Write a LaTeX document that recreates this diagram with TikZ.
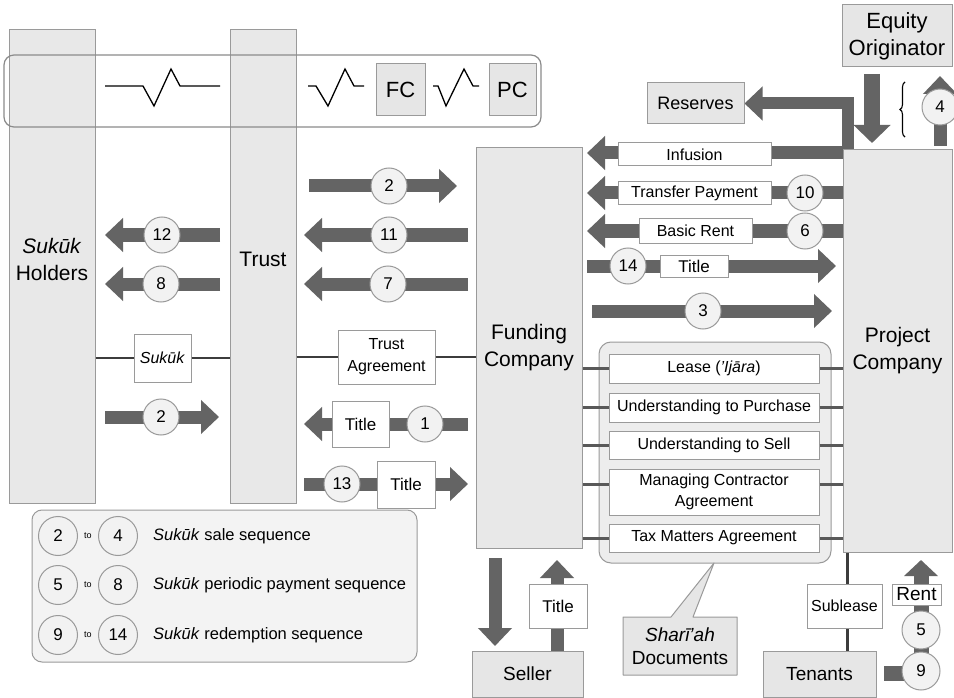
\documentclass[tikz,border=0pt]{standalone}
\usepackage{fontspec}
\setmainfont{Liberation Sans}
\usetikzlibrary{arrows.meta,decorations.pathreplacing,calc}

\definecolor{colfill}{HTML}{E8E8E8}
\definecolor{edge}{HTML}{9A9A9A}
\definecolor{arrowgray}{HTML}{646464}
\definecolor{circfill}{HTML}{F2F2F2}
\definecolor{linegray}{HTML}{3C3C3C}
\definecolor{boxfill}{HTML}{E6E6E6}
\definecolor{groupfill}{HTML}{EDEDED}
\definecolor{legendfill}{HTML}{F3F3F3}

\newcommand{\fsz}[2]{\fontsize{#1pt}{#2pt}\selectfont}

\pgfdeclarelayer{back}
\pgfdeclarelayer{mid}
\pgfsetlayers{back,mid,main}

\tikzset{
  col/.style={draw=edge, fill=colfill, line width=1pt, inner sep=0pt},
  gbox/.style={draw=edge, fill=boxfill, line width=1pt, inner sep=0pt, align=center},
  tbox/.style={draw=edge, fill=white, line width=1pt, inner sep=0pt, align=center, font=\fsz{16}{21}},
  num/.style={circle, draw=edge, fill=circfill, line width=1pt, minimum size=36pt, inner sep=0pt, font=\fsz{17}{20}},
  lnum/.style={num, minimum size=39pt},
  bigtext/.style={align=center, font=\fsz{21}{27}},
  barrow/.style={draw=arrowgray, line width=13pt, -{Triangle[width=33pt,length=18pt]}},
  conn/.style={draw=linegray, line width=2.5pt},
  docline/.style={draw=linegray!85, line width=3pt},
  zig/.style={draw=black, line width=1.3pt},
}

\begin{document}
\begin{tikzpicture}[x=1pt, y=-1pt]
\useasboundingbox (0,0) rectangle (954,698);

% ---------- parties drawn as tall columns ----------
\begin{pgfonlayer}{back}
\fill[white] (0,0) rectangle (954,698);
\node[col, minimum width=86pt, minimum height=473pt] (holders) at (52,266.5) {};
\node[col, minimum width=66pt, minimum height=473pt] (trust) at (263,266.5) {};
\node[col, minimum width=106pt, minimum height=400pt] (funding) at (529,348) {};
\node[col, minimum width=109pt, minimum height=402pt] (project) at (897.5,351) {};
\node[draw=edge, fill=groupfill, line width=1pt, rounded corners=12pt,
      minimum width=232pt, minimum height=221pt, inner sep=0pt] (shariagroup) at (715,452.5) {};
\end{pgfonlayer}

% frame linking the parties across the top
\draw[draw=edge!90!black, line width=1.2pt, rounded corners=10pt] (4,55) rectangle (541,127);

\node[bigtext] (holderslbl) at (52,259) {\textit{Sukūk}\\Holders};
\node[bigtext] (trustlbl) at (263,259) {Trust};
\node[bigtext] (fundinglbl) at (529,348) {Funding\\Company};
\node[bigtext] (projectlbl) at (897.5,351) {Project\\Company};

% zigzag link symbols
\draw[zig] (105,86) -- (143,86) -- (154,106) -- (171,69) -- (180,86) -- (220,86);
\draw[zig] (308,86) -- (316,86) -- (328,106) -- (345,69) -- (354,86) -- (364,86);
\draw[zig] (433,86) -- (438,86) -- (446,106) -- (464,69) -- (473,86) -- (479,86);
\node[gbox, minimum width=49pt, minimum height=52pt, font=\fsz{22}{26}] (fc) at (400.5,90) {FC};
\node[gbox, minimum width=47pt, minimum height=52pt, font=\fsz{22}{26}] (pc) at (512.5,90) {PC};

% ---------- other parties ----------
\node[gbox, minimum width=110pt, minimum height=62pt, font=\fsz{22}{27}] (equity) at (897,36) {Equity\\Originator};
\node[gbox, minimum width=97pt, minimum height=41pt, font=\fsz{18}{22}] (reserves) at (695.5,103.5) {Reserves};
\node[gbox, minimum width=111pt, minimum height=46pt, font=\fsz{19}{23}] (seller) at (527.5,674) {Seller};
\node[gbox, minimum width=113pt, minimum height=46pt, font=\fsz{19}{23}] (tenants) at (819.5,674) {Tenants};

% ---------- end points of the flow arrows ----------
\coordinate (a12s) at (220,235); \coordinate (a12e) at (105,235);
\coordinate (a8s)  at (220,284); \coordinate (a8e)  at (105,284);
\coordinate (a2ls) at (105,417); \coordinate (a2le) at (219,417);
\coordinate (a2us) at (309,186); \coordinate (a2ue) at (457,186);
\coordinate (a11s) at (468,235); \coordinate (a11e) at (304,235);
\coordinate (a7s)  at (468,284); \coordinate (a7e)  at (304,284);
\coordinate (a1s)  at (468,424); \coordinate (a1e)  at (304,424);
\coordinate (a13s) at (304,484); \coordinate (a13e) at (468,484);
\coordinate (ainfs) at (843,153); \coordinate (ainfe) at (587,153);
\coordinate (atps)  at (843,193); \coordinate (atpe)  at (587,193);
\coordinate (abrs)  at (843,231); \coordinate (abre)  at (587,231);
\coordinate (a14s)  at (587,266); \coordinate (a14e)  at (836,266);
\coordinate (a3s)   at (592,311); \coordinate (a3e)   at (832,311);
\coordinate (aeqs) at (872,74);  \coordinate (aeqe) at (872,143);
\coordinate (a4s)  at (940,146); \coordinate (a4e)  at (940,76);
\coordinate (ares) at (848,149);
\coordinate (bracebot) at (905,137); \coordinate (bracetop) at (905,82);
\coordinate (asels) at (495,558); \coordinate (asele) at (495,646);
\coordinate (atis)  at (557,651); \coordinate (atie)  at (557,560);
\coordinate (arents) at (884,673); \coordinate (arentc) at (921,673); \coordinate (arente) at (921,560);

\begin{pgfonlayer}{mid}
\draw[barrow] (a12s) -- (a12e);
\draw[barrow] (a8s) -- (a8e);
\draw[barrow] (a2ls) -- (a2le);
\draw[barrow] (a2us) -- (a2ue);
\draw[barrow] (a11s) -- (a11e);
\draw[barrow] (a7s) -- (a7e);
\draw[barrow] (a1s) -- (a1e);
\draw[barrow] (a13s) -- (a13e);
\draw[barrow] (ainfs) -- (ainfe);
\draw[barrow] (atps) -- (atpe);
\draw[barrow] (abrs) -- (abre);
\draw[barrow] (a14s) -- (a14e);
\draw[barrow] (a3s) -- (a3e);
\draw[barrow, line width=16pt, -{Triangle[width=36pt,length=18pt]}] (aeqs) -- (aeqe);
\draw[barrow] (a4s) -- (a4e);
\draw[barrow, line width=12pt, line join=miter] (ares) |- (reserves.east);
\draw[barrow] (asels) -- (asele);
\draw[barrow] (atis) -- (atie);
\draw[barrow, line width=15pt, -{Triangle[width=33pt,length=16pt]}] (arents) -- (arentc) -- (arente);
\draw[draw=linegray, line width=3pt] (project.south -| 847,0) -- (tenants.north -| 847,0);
\end{pgfonlayer}

\draw[black, line width=1.1pt, decorate, decoration={brace, amplitude=5pt}] (bracebot) -- (bracetop);

% ---------- numbered steps ----------
\node[num] (n12) at (162,235) {12};
\node[num] (n8)  at (161,284) {8};
\node[num] (n2l) at (161,417) {2};
\node[num] (n2u) at (389,186) {2};
\node[num] (n11) at (389,235) {11};
\node[num] (n7)  at (388,284) {7};
\node[num] (n1)  at (425,424) {1};
\node[num] (n13) at (342,484) {13};
\node[num] (n10) at (805,193) {10};
\node[num] (n6)  at (805,231) {6};
\node[num] (n14) at (628,266) {14};
\node[num] (n3)  at (703,311) {3};
\node[num] (n4)  at (940,107) {4};
\node[num, minimum size=38pt] (n5) at (921,630) {5};
\node[num, minimum size=38pt] (n9) at (921,671) {9};

% ---------- labels on the flows ----------
\node[tbox, minimum width=153pt, minimum height=23pt] (infusion) at (694.5,154.5) {Infusion};
\node[tbox, minimum width=153pt, minimum height=23pt] (transfer) at (694.5,193.5) {Transfer Payment};
\node[tbox, minimum width=113pt, minimum height=24pt] (basicrent) at (695.5,231) {Basic Rent};
\node[tbox, minimum width=68pt, minimum height=22pt, font=\fsz{17}{21}] (title14) at (694,266) {Title};
\node[tbox, minimum width=57pt, minimum height=46pt, font=\fsz{17}{21}] (title1) at (360.5,424) {Title};
\node[tbox, minimum width=58pt, minimum height=47pt, font=\fsz{17}{21}] (title13) at (406,484.5) {Title};
\node[tbox, minimum width=58pt, minimum height=44pt, font=\fsz{17}{21}] (titleseller) at (558,606) {Title};
\node[tbox, minimum width=75pt, minimum height=44pt] (sublease) at (844.5,606) {Sublease};
\node[tbox, minimum width=49pt, minimum height=21pt, font=\fsz{19}{22}] (rent) at (916.5,594.5) {Rent};

% ---------- agreements ----------
\node[tbox, minimum width=57pt, minimum height=48pt] (sukukbox) at (162.5,358) {\textit{Sukūk}};
\node[tbox, minimum width=97pt, minimum height=54pt, font=\fsz{16}{22}] (trustagr) at (386.5,357) {Trust\\Agreement};
\draw[conn] (holders.east |- sukukbox.west) -- (sukukbox.west);
\draw[conn] (sukukbox.east) -- (trust.west |- sukukbox.east);
\draw[conn] (trust.east |- trustagr.west) -- (trustagr.west);
\draw[conn] (trustagr.east) -- (funding.west |- trustagr.east);

\node[tbox, minimum width=210pt, minimum height=29pt] (lease) at (714,368.5) {Lease (\textit{’Ijāra})};
\node[tbox, minimum width=210pt, minimum height=29pt] (purchase) at (714,407.5) {Understanding to Purchase};
\node[tbox, minimum width=210pt, minimum height=28pt] (sell) at (714,445) {Understanding to Sell};
\node[tbox, minimum width=210pt, minimum height=46pt, font=\fsz{16}{21}] (mca) at (714,492) {Managing Contractor\\Agreement};
\node[tbox, minimum width=210pt, minimum height=28pt] (tax) at (714,538) {Tax Matters Agreement};
\foreach \d in {lease,purchase,sell,tax}{
  \draw[docline] (funding.east |- \d.west) -- (\d.west);
  \draw[docline] (\d.east) -- (project.west |- \d.east);
}
\draw[docline] (funding.east |- 0,484) -- (mca.west |- 0,484);
\draw[docline] (mca.east |- 0,484) -- (project.west |- 0,484);

% callout naming the document group
\draw[draw=edge, fill=boxfill, line width=1pt, line join=round]
  (623,617) -- (671,617) -- (714,563) -- (693,617) -- (737,617) -- (737,675) -- (623,675) -- cycle;
\node[align=center, font=\fsz{19}{23}] (shariah) at (680,646) {\textit{Sharī’ah}\\Documents};

% ---------- key ----------
\node[draw=edge, fill=legendfill, line width=1pt, rounded corners=10pt,
      minimum width=385pt, minimum height=152pt, inner sep=0pt] (legend) at (224.5,586) {};
\foreach \y/\a/\b/\t in {536/2/4/{\textit{Sukūk} sale sequence},
                         585/5/8/{\textit{Sukūk} periodic payment sequence},
                         635/9/14/{\textit{Sukūk} redemption sequence}}{
  \node[lnum] (k\a) at (58,\y) {\a};
  \node[lnum] (k\b) at (118,\y) {\b};
  \node[font=\fsz{9}{10}] (to\a) at (88,\y) {to};
  \node[anchor=west, inner sep=0pt, font=\fsz{16.5}{20}] (kt\a) at (153,\y) {\t};
}
\end{tikzpicture}
\end{document}
